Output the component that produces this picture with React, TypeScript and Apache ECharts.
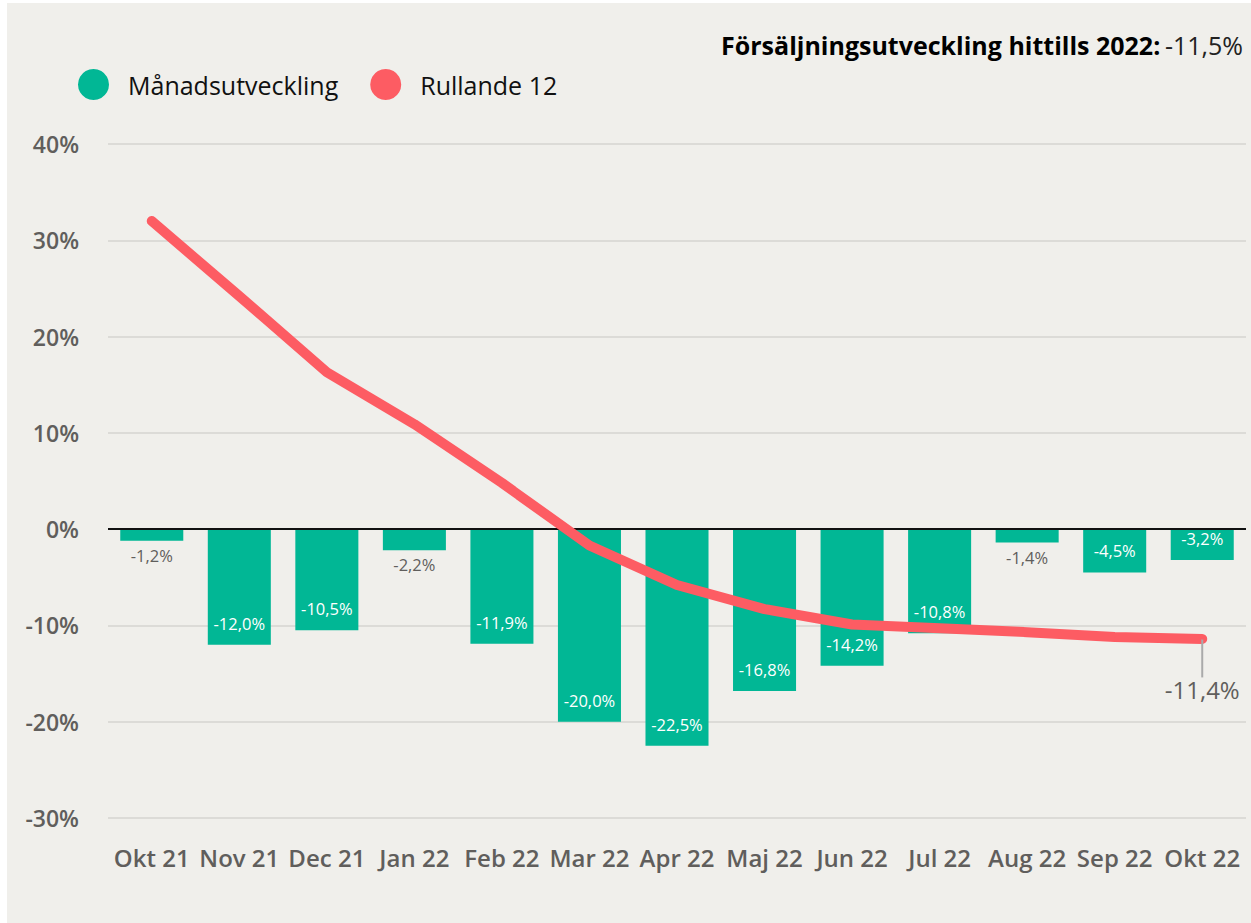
import React, { useEffect, useRef } from "react";
import * as echarts from "echarts";

const categories = ["Okt 21", "Nov 21", "Dec 21", "Jan 22", "Feb 22", "Mar 22", "Apr 22", "Maj 22", "Jun 22", "Jul 22", "Aug 22", "Sep 22", "Okt 22"];
const monthly = [-1.2, -12.0, -10.5, -2.2, -11.9, -20.0, -22.5, -16.8, -14.2, -10.8, -1.4, -4.5, -3.2];
const rolling = [32.0, 24.2, 16.3, 10.9, 4.8, -1.7, -5.8, -8.3, -9.9, -10.3, -10.7, -11.2, -11.4];
const yTicks = { min: -30, max: 40, interval: 10 };
const titleLabel = "Försäljningsutveckling hittills 2022:";
const titleValue = "-11,5%";

const FONT = "'Open Sans', 'Noto Sans', sans-serif";
const GRAY = "#605e5c";
const fmt = (v: number) => v.toFixed(1).replace(".", ",") + "%";

export default function App() {
  const ref = useRef<HTMLDivElement>(null);
  useEffect(() => {
    if (!ref.current) return;
    const chart = echarts.init(ref.current, null, { renderer: "svg" });
    const last = rolling.length - 1;
    chart.setOption({
      animation: false,
      backgroundColor: "#f0efeb",
      textStyle: { fontFamily: FONT },
      title: {
        text: `{b|${titleLabel}} {r|${titleValue}}`,
        right: 3,
        top: 24,
        textStyle: {
          rich: {
            b: { fontFamily: FONT, fontSize: 25, fontWeight: 700, color: "#000" },
            r: { fontFamily: FONT, fontSize: 25, fontWeight: 400, color: "#222" },
          },
        },
      },
      legend: {
        left: 66,
        top: 61,
        icon: "circle",
        itemWidth: 31,
        itemHeight: 31,
        itemGap: 32,
        textStyle: { fontFamily: FONT, fontSize: 25, color: "#111", padding: [0, 0, 0, 14] },
        data: ["Månadsutveckling", "Rullande 12"],
      },
      grid: { left: 101, right: 5, top: 141, bottom: 105, containLabel: false },
      xAxis: {
        type: "category",
        data: categories,
        axisLine: { show: false, onZero: false },
        axisTick: { show: false },
        axisLabel: { margin: 27, fontSize: 24, fontWeight: 600, color: GRAY, fontFamily: FONT, interval: 0 },
      },
      yAxis: {
        type: "value",
        min: yTicks.min,
        max: yTicks.max,
        interval: yTicks.interval,
        axisLabel: { formatter: "{value}%", fontSize: 23, fontWeight: 600, color: GRAY, margin: 29, fontFamily: FONT },
        splitLine: { lineStyle: { color: "#dcdbd7", width: 2 } },
        axisLine: { show: false },
        axisTick: { show: false },
      },
      series: [
        {
          name: "Månadsutveckling",
          type: "bar",
          barWidth: "72%",
          itemStyle: { color: "#01b795" },
          data: monthly.map((v) => {
            const small = Math.abs(v) < 3;
            return {
              value: v,
              label: small
                ? { show: true, position: "bottom", distance: 6, color: GRAY, fontSize: 16.5, fontFamily: FONT, formatter: () => fmt(v) }
                : { show: true, position: "insideBottom", distance: 13, color: "#fff", fontSize: 16.5, fontFamily: FONT, formatter: () => fmt(v) },
            };
          }),
          markLine: {
            silent: true,
            symbol: "none",
            label: { show: false },
            lineStyle: { color: "#111", width: 2, type: "solid" },
            data: [{ yAxis: 0 }],
          },
        },
        {
          name: "Rullande 12",
          type: "line",
          z: 5,
          symbol: "circle",
          symbolSize: 1,
          itemStyle: { color: "#fd5c63" },
          lineStyle: { color: "#fd5c63", width: 10, cap: "round", join: "round" },
          data: rolling.map((v, i) =>
            i === last
              ? {
                  value: v,
                  label: { show: true, position: "bottom", distance: 8, color: GRAY, fontSize: 24, fontFamily: FONT, formatter: () => fmt(v) },
                  labelLine: { show: true, lineStyle: { color: "#aaa", width: 2 } },
                }
              : { value: v }
          ),
          labelLayout: { dy: 30 },
          labelLine: { show: true, lineStyle: { color: "#aaa", width: 2 } },
        },
      ],
    });
    return () => chart.dispose();
  }, []);
  return (
    <div
      ref={ref}
      style={{ position: "fixed", left: 7, top: 3, width: 1244, height: 920 }}
    />
  );
}
